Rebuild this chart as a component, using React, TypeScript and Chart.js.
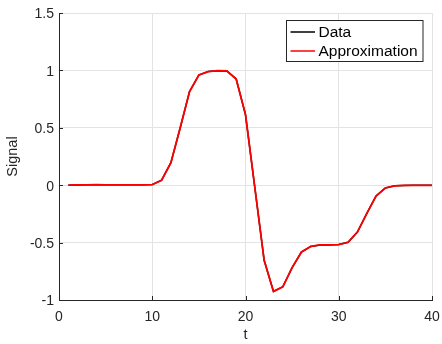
import React, { useEffect, useRef } from "react";
import { Chart, registerables } from "chart.js";

Chart.register(...registerables);

const tValues = [
  1, 2, 3, 4, 5, 6, 7, 8, 9, 10,
  11, 12, 13, 14, 15, 16, 17, 18, 19, 20,
  21, 22, 23, 24, 25, 26, 27, 28, 29, 30,
  31, 32, 33, 34, 35, 36, 37, 38, 39, 40,
];
const dataValues = [
  0.0, 0.002, 0.003, 0.004, 0.003, 0.003, 0.003, 0.003, 0.003, 0.005,
  0.043, 0.196, 0.5, 0.815, 0.96, 0.99, 0.998, 0.995, 0.925, 0.615,
  -0.02, -0.654, -0.925, -0.885, -0.718, -0.582, -0.533, -0.52, -0.52, -0.517,
  -0.497, -0.408, -0.248, -0.094, -0.024, -0.005, -0.002, -0.001, -0.001, -0.001,
];
const approxValues = [
  0.0, 0.002, 0.003, 0.004, 0.003, 0.003, 0.003, 0.003, 0.003, 0.005,
  0.043, 0.196, 0.5, 0.815, 0.96, 0.99, 0.998, 0.995, 0.925, 0.615,
  -0.02, -0.654, -0.925, -0.885, -0.718, -0.582, -0.533, -0.52, -0.52, -0.517,
  -0.497, -0.408, -0.248, -0.094, -0.024, -0.005, -0.002, -0.001, -0.001, -0.001,
];
const xTicks = [0, 10, 20, 30, 40];
const xTickLabels = ["0", "10", "20", "30", "40"];
const yTicks = [-1, -0.5, 0, 0.5, 1, 1.5];
const yTickLabels = ["-1", "-0.5", "0", "0.5", "1", "1.5"];
const legendLabels = ["Data", "Approximation"];
const seriesColors = ["#000000", "#ff0000"];

const AXIS_COLOR = "#262626";
const FONT_FAMILY = "'Liberation Sans', Arial, Helvetica, sans-serif";

const innerTicksPlugin = {
  id: "innerTicks",
  afterDraw(chart: any) {
    const { ctx, chartArea } = chart;
    const xs = chart.scales.x;
    const ys = chart.scales.y;
    ctx.save();
    ctx.strokeStyle = AXIS_COLOR;
    ctx.lineWidth = 1;
    ctx.beginPath();
    xTicks.forEach((v) => {
      const px = Math.round(xs.getPixelForValue(v)) + 0.5;
      ctx.moveTo(px, chartArea.bottom);
      ctx.lineTo(px, chartArea.bottom - 4);
    });
    yTicks.forEach((v) => {
      const py = Math.round(ys.getPixelForValue(v)) + 0.5;
      ctx.moveTo(chartArea.left, py);
      ctx.lineTo(chartArea.left + 4, py);
    });
    ctx.stroke();
    ctx.restore();
  },
};

const legendPlugin = {
  id: "matlabLegend",
  afterDraw(chart: any) {
    const { ctx } = chart;
    const x0 = 286.5;
    const y0 = 20.5;
    const w = 136.5;
    const h = 41;
    ctx.save();
    ctx.fillStyle = "#ffffff";
    ctx.fillRect(x0, y0, w, h);
    ctx.strokeStyle = AXIS_COLOR;
    ctx.lineWidth = 1;
    ctx.strokeRect(x0, y0, w, h);
    ctx.font = `15.5px ${FONT_FAMILY}`;
    ctx.textBaseline = "middle";
    ctx.textAlign = "left";
    const rows = [32, 51];
    legendLabels.forEach((label, i) => {
      const y = rows[i];
      ctx.strokeStyle = seriesColors[i];
      ctx.lineWidth = 1.5;
      ctx.beginPath();
      ctx.moveTo(290.5, y);
      ctx.lineTo(315, y);
      ctx.stroke();
      ctx.fillStyle = "#000000";
      ctx.fillText(label, 318.5, y + 1);
    });
    ctx.restore();
  },
};

export default function App() {
  const canvasRef = useRef<HTMLCanvasElement | null>(null);

  useEffect(() => {
    if (!canvasRef.current) return;
    const chart = new Chart(canvasRef.current, {
      type: "line",
      data: {
        datasets: [
          {
            label: legendLabels[0],
            data: tValues.map((t, i) => ({ x: t, y: dataValues[i] })),
            borderColor: seriesColors[0],
            borderWidth: 1.5,
            pointRadius: 0,
            tension: 0,
            fill: false,
            order: 2,
          },
          {
            label: legendLabels[1],
            data: tValues.map((t, i) => ({ x: t, y: approxValues[i] })),
            borderColor: seriesColors[1],
            borderWidth: 1.8,
            pointRadius: 0,
            tension: 0,
            fill: false,
            order: 1,
          },
        ],
      },
      options: {
        responsive: false,
        animation: false,
        events: [],
        layout: { padding: { top: 13, right: 10, bottom: 0, left: 0 } },
        plugins: {
          legend: { display: false },
          tooltip: { enabled: false },
        },
        scales: {
          x: {
            type: "linear",
            min: 0,
            max: 40,
            afterBuildTicks: (scale: any) => {
              scale.ticks = xTicks.map((v) => ({ value: v }));
            },
            afterFit: (scale: any) => {
              scale.height = 44;
              scale.paddingLeft = 0;
              scale.paddingRight = 0;
            },
            grid: { color: "#e3e3e3", drawTicks: false, lineWidth: 1 },
            border: { color: AXIS_COLOR, width: 1 },
            ticks: {
              padding: 9,
              color: AXIS_COLOR,
              font: { family: FONT_FAMILY, size: 14 },
              maxRotation: 0,
              callback: (v: any) => {
                const i = xTicks.indexOf(Number(v));
                return i >= 0 ? xTickLabels[i] : "";
              },
            },
            title: {
              display: true,
              text: "t",
              color: AXIS_COLOR,
              font: { family: FONT_FAMILY, size: 14.5 },
              padding: { top: 0, bottom: 0.6 },
            },
          },
          y: {
            type: "linear",
            min: -1,
            max: 1.5,
            afterBuildTicks: (scale: any) => {
              scale.ticks = yTicks.map((v) => ({ value: v }));
            },
            afterFit: (scale: any) => {
              scale.width = 59;
              scale.paddingTop = 0;
              scale.paddingBottom = 0;
            },
            grid: { color: "#e3e3e3", drawTicks: false, lineWidth: 1 },
            border: { color: AXIS_COLOR, width: 1 },
            ticks: {
              padding: 5,
              labelOffset: 1.5,
              color: AXIS_COLOR,
              font: { family: FONT_FAMILY, size: 14 },
              callback: (v: any) => {
                const i = yTicks.indexOf(Number(v));
                return i >= 0 ? yTickLabels[i] : "";
              },
            },
            title: {
              display: true,
              text: "Signal",
              color: AXIS_COLOR,
              font: { family: FONT_FAMILY, size: 14.5 },
              padding: { top: 4.6, bottom: 0 },
            },
          },
        },
      },
      plugins: [innerTicksPlugin, legendPlugin],
    });
    return () => chart.destroy();
  }, []);

  return (
    <div style={{ position: "absolute", left: 0, top: 0, width: 442, height: 344, background: "#ffffff" }}>
      <canvas ref={canvasRef} width={442} height={344} style={{ display: "block" }} />
    </div>
  );
}
